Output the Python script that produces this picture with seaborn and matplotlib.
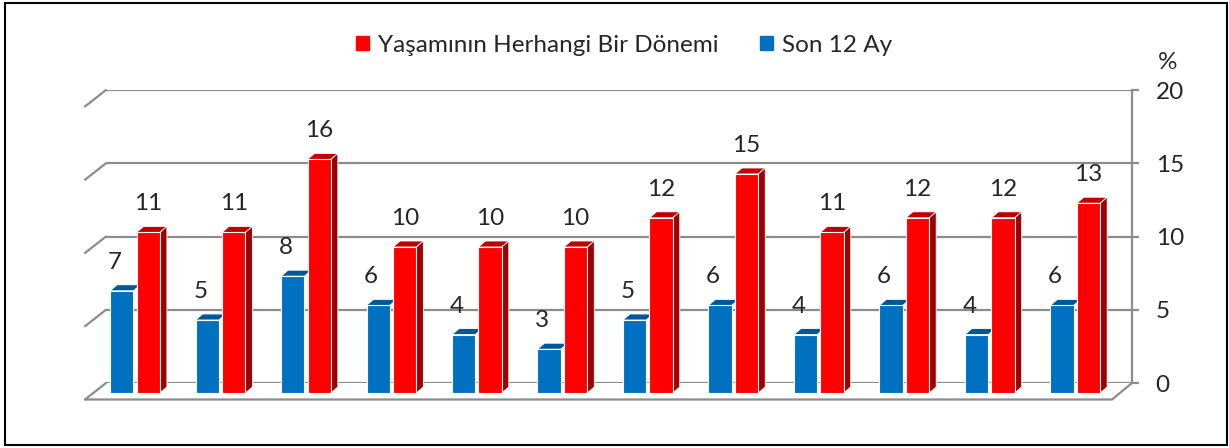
import pandas as pd
import matplotlib.pyplot as plt
import seaborn as sns
from matplotlib.patches import Patch, Polygon, Rectangle
from matplotlib.lines import Line2D

# Data
gruplar = list(range(12))
son_12_ay = [7, 5, 8, 6, 4, 3, 5, 6, 4, 6, 4, 6]
yasam_boyu = [11, 11, 16, 10, 10, 10, 12, 15, 11, 12, 12, 13]
seriler = ["Son 12 Ay", "Yaşamının Herhangi Bir Dönemi"]
renkler = {"Son 12 Ay": "#0070C0", "Yaşamının Herhangi Bir Dönemi": "#FF0000"}
ust_renk = {"Son 12 Ay": "#005796", "Yaşamının Herhangi Bir Dönemi": "#C00000"}
yan_renk = {"Son 12 Ay": "#004C85", "Yaşamının Herhangi Bir Dönemi": "#A00000"}
y_ticks = [0, 5, 10, 15, 20]

df = pd.DataFrame({
    "grup": gruplar * 2,
    "seri": [seriler[0]] * 12 + [seriler[1]] * 12,
    "deger": son_12_ay + yasam_boyu,
})

sns.set_style("white")
plt.rcParams["font.family"] = ["Lato", "DejaVu Sans"]
FS = 17.5

W, H = 1229, 448
fig = plt.figure(figsize=(W / 100, H / 100), dpi=100)

def px_box(x0, x1, ytop, ybot):
    return [x0 / W, (H - ybot) / H, (x1 - x0) / W, (ybot - ytop) / H]

# back wall (grid + right axis)
ax_back = fig.add_axes(px_box(106, 1132, 90, 383))
ax_back.set_ylim(0, 20)
ax_back.set_xlim(0, 1)
ax_back.set_yticks(y_ticks)
ax_back.set_xticks([])
ax_back.yaxis.tick_right()
ax_back.tick_params(axis="y", length=5, width=1.6, color="#8c8c8c", pad=12, labelsize=FS)
for s in ["top", "left", "bottom"]:
    ax_back.spines[s].set_visible(False)
ax_back.spines["right"].set_color("#8c8c8c")
ax_back.spines["right"].set_linewidth(1.6)
for v in y_ticks:
    ax_back.axhline(v, color="#8c8c8c", lw=1.6, zorder=0)
ax_back.patch.set_alpha(0)

# floor and left diagonals (pixel space)
def line_px(xs, ys, **kw):
    fig.add_artist(Line2D([x / W for x in xs], [(H - y) / H for y in ys],
                          transform=fig.transFigure, **kw))

for v in y_ticks:
    yb = 383 - v * (293 / 20)
    line_px([85, 106], [yb + 16.5, yb], color="#8c8c8c", lw=1.6)
line_px([85, 1112, 1132], [399.5, 399.5, 383], color="#8c8c8c", lw=1.6)

# bar plane
ax = fig.add_axes(px_box(85, 1112, 101, 393))
sns.barplot(data=df, x="grup", y="deger", hue="seri", hue_order=seriler,
            palette=renkler, saturation=1, width=0.62, gap=0.12, edgecolor="white",
            linewidth=0.8, legend=False, ax=ax, zorder=2)
ax.set_xlim(-0.585, 11.43)
ax.set_ylim(0, 20)
ax.axis("off")
ax.patch.set_alpha(0)

dx = 7 / (1027 / (11.43 + 0.585))
dy = 6 / (292 / 20)
for i, bar in enumerate(ax.patches):
    seri = seriler[0] if i < 12 else seriler[1]
    x, w, h = bar.get_x(), bar.get_width(), bar.get_height()
    top = Polygon([(x, h), (x + dx, h + dy), (x + w + dx, h + dy), (x + w, h)],
                  closed=True, fc=ust_renk[seri], ec="white", lw=0.6, zorder=1.5)
    ax.add_patch(top)
    if seri == seriler[1]:
        side = Polygon([(x + w, 0), (x + w + dx, dy), (x + w + dx, h + dy), (x + w, h)],
                       closed=True, fc=yan_renk[seri], ec="white", lw=0.6, zorder=1.5)
        ax.add_patch(side)
    off = -5 if seri == seriler[0] else 0
    ax.annotate(f"{h:.0f}", (x + w / 2, h), xytext=(off, 20.5),
                textcoords="offset points", ha="center", va="center", fontsize=FS)

# legend
handles = [Patch(color=renkler[seriler[1]], label=seriler[1]),
           Patch(color=renkler[seriler[0]], label=seriler[0])]
fig.legend(handles=handles, loc="center", bbox_to_anchor=(624 / W, 1 - 45 / H),
           ncol=2, frameon=False, fontsize=FS, handlelength=0.55, handleheight=0.55,
           handletextpad=0.35, columnspacing=1.7)

fig.text(1168 / W, 1 - 62 / H, "%", ha="center", va="center", fontsize=FS)

# border
fig.add_artist(Rectangle((5 / W, 3 / H), 1222 / W, 442 / H, transform=fig.transFigure,
                         fill=False, ec="black", lw=1.5))

fig.savefig("out.png", dpi=100)
